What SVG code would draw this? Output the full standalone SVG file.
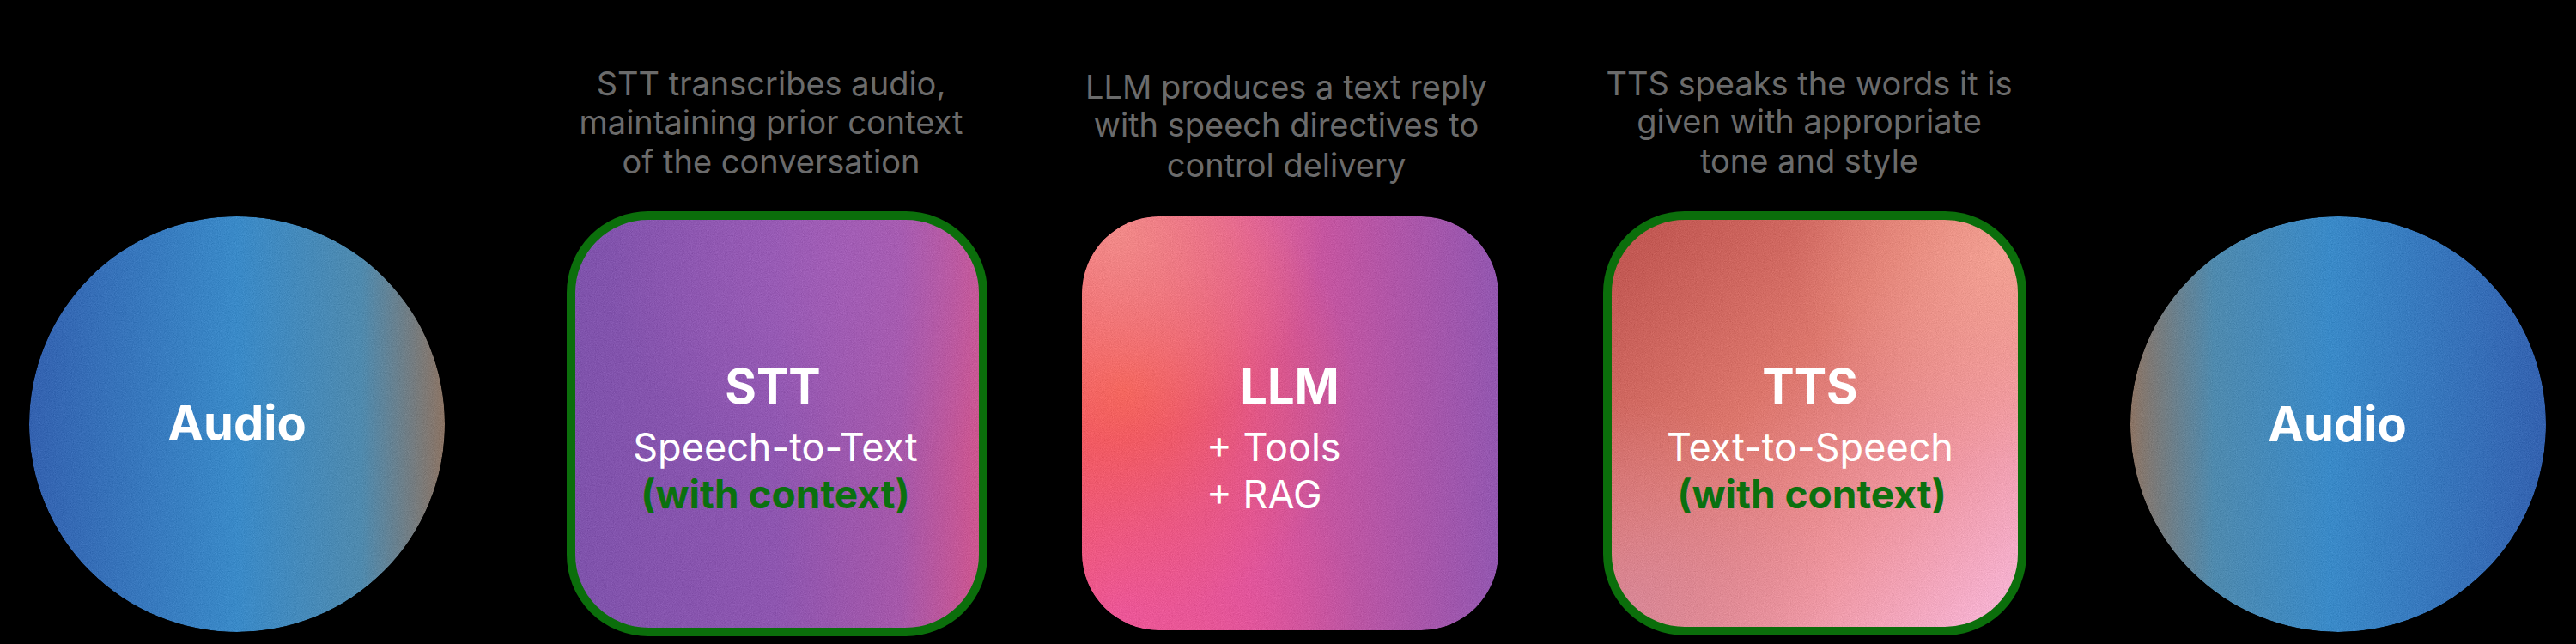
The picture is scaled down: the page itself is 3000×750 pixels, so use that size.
<svg xmlns="http://www.w3.org/2000/svg" width="3000" height="750" viewBox="0 0 3000 750">
  <style>
    .desc { font-family: Inter, "Noto Sans", "Liberation Sans", sans-serif; font-size: 38px; fill: #6b6b6b; text-anchor: middle; }
    .title { font-family: Inter, "Liberation Sans", sans-serif; font-size: 56px; font-weight: 700; fill: #ffffff; text-anchor: middle; }
    .sub { font-family: Inter, "Liberation Sans", sans-serif; font-size: 45px; font-weight: 400; fill: #ffffff; text-anchor: middle; }
    .ctx { font-family: Inter, "Liberation Sans", sans-serif; font-size: 46px; font-weight: 700; fill: #0b700f; text-anchor: middle; }
    .audio { font-family: Inter, "Liberation Sans", sans-serif; font-size: 56px; font-weight: 700; fill: #ffffff; text-anchor: middle; }
    .ring { stroke: #0b6e0b; stroke-width: 10; }
  </style>
  <defs>
    <filter id="grain" x="0" y="0" width="100%" height="100%" color-interpolation-filters="sRGB">
      <feTurbulence type="fractalNoise" baseFrequency="0.9" numOctaves="2" seed="7" result="n"/>
      <feColorMatrix in="n" type="matrix" values="0.33 0.33 0.33 0 0  0.33 0.33 0.33 0 0  0.33 0.33 0.33 0 0  0 0 0 0 1" result="g"/>
      <feComposite in="SourceGraphic" in2="g" operator="arithmetic" k1="0" k2="1" k3="0.22" k4="-0.11" result="b"/>
      <feComposite in="b" in2="SourceGraphic" operator="in"/>
    </filter>
    <linearGradient id="gAudioL" x1="0" y1="0" x2="1" y2="0">
      <stop offset="0" stop-color="#3462b0"/>
      <stop offset="0.5" stop-color="#3a8ac8"/>
      <stop offset="0.8" stop-color="#4f8aae"/>
      <stop offset="1" stop-color="#8c7464"/>
    </linearGradient>
    <linearGradient id="gAudioR" x1="0" y1="0" x2="1" y2="0">
      <stop offset="0" stop-color="#8c7464"/>
      <stop offset="0.2" stop-color="#4f8aae"/>
      <stop offset="0.48" stop-color="#3a8ac8"/>
      <stop offset="1" stop-color="#3462b0"/>
    </linearGradient>
    <linearGradient id="gStt" x1="0" y1="0" x2="1" y2="0">
      <stop offset="0" stop-color="#7f53ac"/>
      <stop offset="0.5" stop-color="#8e56b0"/>
      <stop offset="0.8" stop-color="#a658aa"/>
      <stop offset="1" stop-color="#d0568e"/>
    </linearGradient>
    <radialGradient id="gSttTop" cx="0.65" cy="0.1" r="0.55">
      <stop offset="0" stop-color="#a863bd" stop-opacity="0.55"/>
      <stop offset="1" stop-color="#a863bd" stop-opacity="0"/>
    </radialGradient>
    <linearGradient id="gLlm" x1="0" y1="0" x2="1" y2="0">
      <stop offset="0" stop-color="#ee5a70"/>
      <stop offset="0.4" stop-color="#dc5598"/>
      <stop offset="0.75" stop-color="#b056a8"/>
      <stop offset="1" stop-color="#9357b0"/>
    </linearGradient>
    <radialGradient id="gLlmRed" cx="0.1" cy="0.42" r="0.55">
      <stop offset="0" stop-color="#f65c4e" stop-opacity="0.9"/>
      <stop offset="0.6" stop-color="#f25c5c" stop-opacity="0.3"/>
      <stop offset="1" stop-color="#f25c5c" stop-opacity="0"/>
    </radialGradient>
    <radialGradient id="gLlmTop" cx="0.08" cy="0.04" r="0.5">
      <stop offset="0" stop-color="#f2928c" stop-opacity="0.85"/>
      <stop offset="1" stop-color="#f2928c" stop-opacity="0"/>
    </radialGradient>
    <radialGradient id="gLlmBot" cx="0.1" cy="0.95" r="0.55">
      <stop offset="0" stop-color="#ec56a0" stop-opacity="0.8"/>
      <stop offset="1" stop-color="#ec56a0" stop-opacity="0"/>
    </radialGradient>
    <linearGradient id="gTts" x1="0" y1="0" x2="1" y2="1">
      <stop offset="0" stop-color="#bd524e"/>
      <stop offset="0.4" stop-color="#dc766c"/>
      <stop offset="0.7" stop-color="#ee96a0"/>
      <stop offset="1" stop-color="#f7b8dc"/>
    </linearGradient>
    <radialGradient id="gTtsTR" cx="0.95" cy="0.1" r="0.5">
      <stop offset="0" stop-color="#f5a696" stop-opacity="0.8"/>
      <stop offset="1" stop-color="#f5a696" stop-opacity="0"/>
    </radialGradient>
    <radialGradient id="gTtsBL" cx="0.05" cy="0.95" r="0.5">
      <stop offset="0" stop-color="#d6889c" stop-opacity="0.8"/>
      <stop offset="1" stop-color="#d6889c" stop-opacity="0"/>
    </radialGradient>
  </defs>

  <rect x="0" y="0" width="3000" height="750" fill="#000000"/>

  <g id="connectors"/>

  <g id="audio-in">
    <g filter="url(#grain)">
      <circle cx="276" cy="494" r="242" fill="url(#gAudioL)"/>
    </g>
    <text class="audio" x="276" y="513">Audio</text>
  </g>

  <g id="stt">
    <text class="desc" x="898" y="111">STT transcribes audio,</text>
    <text class="desc" x="898" y="156">maintaining prior context</text>
    <text class="desc" x="898" y="202">of the conversation</text>
    <g filter="url(#grain)">
      <rect x="665" y="251" width="480" height="485" rx="90" fill="url(#gStt)"/>
      <rect x="665" y="251" width="480" height="485" rx="90" fill="url(#gSttTop)"/>
    </g>
    <rect class="ring" x="665" y="251" width="480" height="485" rx="90" fill="none"/>
    <text class="title" x="900" y="470">STT</text>
    <text class="sub" x="903" y="537">Speech-to-Text</text>
    <text class="ctx" x="903" y="592">(with context)</text>
  </g>

  <g id="llm">
    <text class="desc" x="1498" y="115">LLM produces a text reply</text>
    <text class="desc" x="1498" y="159">with speech directives to</text>
    <text class="desc" x="1498" y="206">control delivery</text>
    <g filter="url(#grain)">
      <rect x="1260" y="252" width="485" height="482" rx="90" fill="url(#gLlm)"/>
      <rect x="1260" y="252" width="485" height="482" rx="90" fill="url(#gLlmBot)"/>
      <rect x="1260" y="252" width="485" height="482" rx="90" fill="url(#gLlmRed)"/>
      <rect x="1260" y="252" width="485" height="482" rx="90" fill="url(#gLlmTop)"/>
    </g>
    <text class="title" x="1502" y="470">LLM</text>
    <text class="sub" x="1405" y="537" style="text-anchor:start">+ Tools</text>
    <text class="sub" x="1405" y="592" style="text-anchor:start">+ RAG</text>
  </g>

  <g id="tts">
    <text class="desc" x="2107" y="111">TTS speaks the words it is</text>
    <text class="desc" x="2107" y="155">given with appropriate</text>
    <text class="desc" x="2107" y="201">tone and style</text>
    <g filter="url(#grain)">
      <rect x="1872" y="251" width="483" height="484" rx="90" fill="url(#gTts)"/>
      <rect x="1872" y="251" width="483" height="484" rx="90" fill="url(#gTtsTR)"/>
      <rect x="1872" y="251" width="483" height="484" rx="90" fill="url(#gTtsBL)"/>
    </g>
    <rect class="ring" x="1872" y="251" width="483" height="484" rx="90" fill="none"/>
    <text class="title" x="2108" y="470">TTS</text>
    <text class="sub" x="2108" y="537">Text-to-Speech</text>
    <text class="ctx" x="2110" y="592">(with context)</text>
  </g>

  <g id="audio-out">
    <g filter="url(#grain)">
      <circle cx="2723" cy="494" r="242" fill="url(#gAudioR)"/>
    </g>
    <text class="audio" x="2722" y="514">Audio</text>
  </g>
</svg>
